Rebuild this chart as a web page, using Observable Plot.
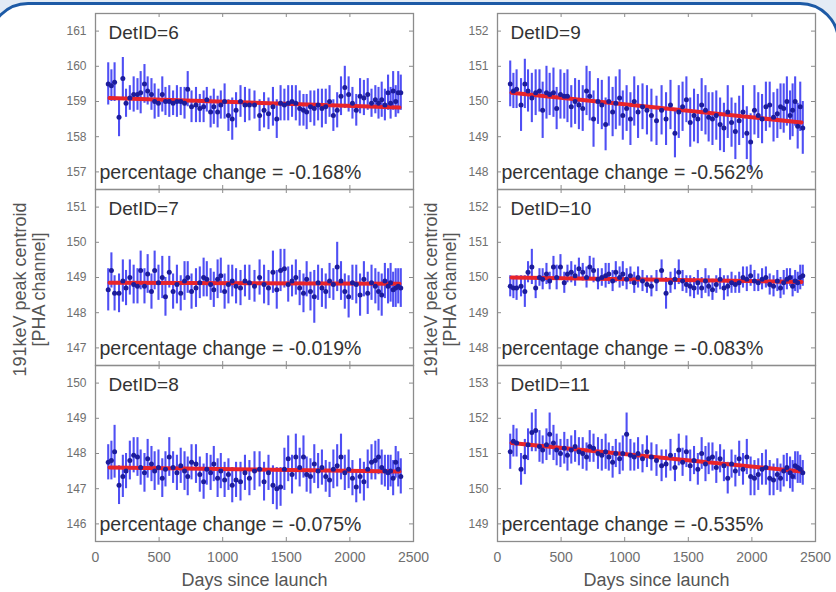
<!DOCTYPE html>
<html>
<head>
<meta charset="utf-8">
<script src="https://cdn.jsdelivr.net/npm/d3@7"></script>
<script src="https://cdn.jsdelivr.net/npm/@observablehq/plot@0.6"></script>
<style>
  body { margin: 0; background: #fff; }
  #fig { position: relative; width: 836px; height: 592px; overflow: hidden; background: #e3ebf5;
         font-family: "Liberation Sans", Arial, sans-serif; }
  #card { position: absolute; left: -12px; top: 2px; width: 852px; height: 660px; box-sizing: border-box;
          border: 3px solid #1d5aa6; border-radius: 40px; background: #fff; }
  .panel { position: absolute; }
</style>
</head>
<body>
<div id="fig"><div id="card"></div></div>
<script>
// Observation days (days since launch), shared by all detectors
const days = [
  100, 125, 150, 185, 215, 240, 270, 300, 330, 355,
  385, 410, 440, 465, 495, 525, 550, 580, 610, 640,
  670, 700, 725, 755, 790, 820, 850, 875, 905, 930,
  960, 985, 1015, 1045, 1075, 1105, 1140, 1175, 1210, 1250,
  1290, 1325, 1360, 1395, 1425, 1455, 1485, 1515, 1545, 1575,
  1605, 1635, 1660, 1690, 1720, 1750, 1780, 1810, 1840, 1870,
  1900, 1930, 1960, 1990, 2020, 2050, 2080, 2110, 2140, 2170,
  2200, 2225, 2250, 2275, 2300, 2320, 2340, 2360, 2380, 2400
];

// 191 keV peak centroid [PHA channel] and 1-sigma errors per detector
const det6 = [
  159.5, 159.45, 159.55, 158.55, 159.65, 158.95, 159.1, 159.2, 159.2, 159.25,
  159.5, 159.3, 159.2, 159.0, 158.95, 159.2, 159.0, 159.0, 158.95, 159.0,
  159.0, 158.95, 159.35, 158.85, 158.9, 158.8, 158.85, 159.05, 158.7, 158.85,
  158.7, 158.9, 159.0, 158.6, 158.5, 158.75, 159.0, 158.9, 158.9, 158.9,
  158.6, 158.75, 158.65, 158.85, 158.5, 158.95, 158.9, 158.95, 159.0, 158.95,
  158.8, 158.75, 158.7, 158.85, 158.8, 158.9, 158.8, 158.85, 159.0, 158.6,
  158.75, 159.15, 159.4, 159.2, 158.95, 158.75, 159.15, 159.1, 159.2, 158.95,
  159.05, 158.95, 159.05, 158.9, 159.25, 158.95, 159.3, 159.0, 159.25, 159.25
];
const err6 = [
  0.6, 0.45, 0.55, 0.55, 0.6, 0.4, 0.35, 0.5, 0.45, 0.6,
  0.55, 0.4, 0.45, 0.5, 0.4, 0.5, 0.4, 0.45, 0.35, 0.45,
  0.4, 0.45, 0.5, 0.45, 0.5, 0.4, 0.45, 0.35, 0.45, 0.5,
  0.45, 0.4, 0.5, 0.45, 0.6, 0.5, 0.45, 0.5, 0.45, 0.4,
  0.45, 0.5, 0.45, 0.55, 0.55, 0.5, 0.45, 0.5, 0.45, 0.5,
  0.5, 0.45, 0.5, 0.45, 0.5, 0.45, 0.55, 0.5, 0.45, 0.45,
  0.5, 0.55, 0.6, 0.5, 0.45, 0.45, 0.5, 0.5, 0.45, 0.4,
  0.4, 0.45, 0.5, 0.45, 0.5, 0.45, 0.55, 0.45, 0.6, 0.5
];
const det7 = [
  148.65, 149.2, 148.55, 148.55, 148.9, 148.7, 149.0, 148.8, 148.75, 149.2,
  148.75, 149.1, 148.6, 149.2, 148.85, 149.0, 148.45, 149.15, 148.6, 148.8,
  148.55, 148.9, 149.0, 148.6, 148.7, 148.85, 149.0, 148.95, 148.8, 148.65,
  148.95, 149.05, 148.6, 148.8, 148.9, 148.75, 148.7, 148.9, 148.85, 148.75,
  149.0, 148.8, 148.7, 149.15, 148.65, 149.2, 149.25, 148.8, 148.9, 149.0,
  148.7, 148.55, 148.95, 148.6, 148.45, 148.85, 148.7, 148.6, 148.9, 148.8,
  149.3, 148.9, 148.6, 148.45, 148.85, 148.8, 148.5, 148.95, 148.55, 148.85,
  148.75, 148.6, 148.5, 148.9, 148.75, 148.85, 148.65, 148.7, 148.75, 148.7
];
const err7 = [
  0.6, 0.5, 0.5, 0.55, 0.6, 0.5, 0.5, 0.55, 0.5, 0.55,
  0.5, 0.55, 0.5, 0.55, 0.5, 0.6, 0.55, 0.45, 0.5, 0.55,
  0.5, 0.55, 0.45, 0.5, 0.55, 0.45, 0.55, 0.5, 0.45, 0.5,
  0.55, 0.5, 0.5, 0.55, 0.45, 0.5, 0.5, 0.45, 0.5, 0.45,
  0.5, 0.55, 0.5, 0.6, 0.55, 0.6, 0.55, 0.5, 0.45, 0.5,
  0.5, 0.55, 0.5, 0.55, 0.75, 0.5, 0.55, 0.5, 0.5, 0.45,
  0.7, 0.55, 0.5, 0.6, 0.5, 0.55, 0.6, 0.5, 0.6, 0.5,
  0.5, 0.55, 0.6, 0.5, 0.5, 0.55, 0.5, 0.55, 0.5, 0.55
];
const det8 = [
  147.75, 147.8, 148.05, 147.1, 147.35, 147.5, 147.8, 147.95, 147.9, 147.6,
  147.45, 147.85, 147.7, 147.5, 147.6, 147.3, 147.55, 147.9, 147.6, 147.45,
  147.65, 147.5, 147.35, 147.75, 147.7, 147.4, 147.2, 147.55, 147.45, 147.7,
  147.3, 147.5, 147.25, 147.4, 147.1, 147.25, 147.2, 147.45, 147.3, 147.5,
  147.55, 147.2, 147.45, 147.1, 147.0, 147.05, 147.55, 147.85, 147.4, 147.9,
  147.6, 147.9, 147.4, 147.35, 147.7, 147.5, 147.6, 147.35, 147.25, 147.55,
  147.65, 147.9, 147.45, 147.55, 147.3, 147.05, 147.35, 147.2, 147.55, 147.75,
  147.8, 147.9, 147.6, 147.5, 147.45, 147.5, 147.3, 147.75, 147.55, 147.35
];
const err8 = [
  0.5, 0.55, 0.75, 0.55, 0.6, 0.5, 0.55, 0.5, 0.55, 0.5,
  0.55, 0.55, 0.5, 0.55, 0.5, 0.55, 0.5, 0.55, 0.45, 0.5,
  0.5, 0.55, 0.55, 0.5, 0.55, 0.5, 0.5, 0.45, 0.5, 0.5,
  0.55, 0.5, 0.5, 0.45, 0.5, 0.5, 0.55, 0.5, 0.5, 0.55,
  0.5, 0.55, 0.5, 0.55, 0.6, 0.55, 0.6, 0.65, 0.55, 0.65,
  0.55, 0.6, 0.5, 0.5, 0.55, 0.5, 0.5, 0.45, 0.5, 0.55,
  0.6, 0.65, 0.5, 0.55, 0.5, 0.45, 0.5, 0.55, 0.55, 0.5,
  0.55, 0.5, 0.5, 0.45, 0.5, 0.45, 0.5, 0.45, 0.5, 0.5
];
const det9 = [
  150.5, 150.3, 150.35, 149.9, 150.5, 150.3, 150.1, 150.25, 150.3, 149.75,
  150.25, 150.2, 150.25, 149.8, 150.2, 150.15, 150.15, 149.85, 150.0, 149.9,
  149.8, 150.3, 150.15, 149.5, 150.0, 149.9, 149.35, 150.0, 149.7, 149.95,
  150.1, 149.6, 149.8, 149.5, 150.0, 149.7, 149.85, 149.75, 149.6, 149.45,
  149.75, 149.5, 149.9, 149.1, 149.7, 149.85, 150.05, 149.4, 149.6, 149.5,
  149.9, 149.75, 149.55, 149.5, 149.6, 149.35, 149.25, 149.7, 149.4, 149.15,
  149.45, 149.7, 149.1, 148.85, 149.75, 149.6, 149.5, 149.85, 149.9, 149.55,
  149.65, 149.85, 149.8, 150.0, 149.6, 149.75, 150.0, 149.3, 149.85, 149.25
];
const err9 = [
  0.65, 0.5, 0.55, 0.75, 0.7, 0.6, 0.7, 0.65, 0.6, 0.8,
  0.75, 0.6, 0.7, 0.6, 0.7, 0.65, 0.75, 0.6, 0.65, 0.7,
  0.65, 0.7, 0.7, 0.8, 0.65, 0.7, 0.75, 0.7, 0.7, 0.75,
  0.8, 0.7, 0.65, 0.75, 0.7, 0.75, 0.65, 0.7, 0.75, 0.7,
  0.7, 0.75, 0.7, 0.7, 0.75, 0.7, 0.65, 0.7, 0.75, 0.7,
  0.75, 0.7, 0.7, 0.75, 0.7, 0.75, 0.7, 0.75, 0.7, 0.8,
  0.7, 0.75, 0.75, 0.8, 0.7, 0.65, 0.7, 0.7, 0.65, 0.7,
  0.7, 0.65, 0.7, 0.7, 0.7, 0.75, 0.7, 0.65, 0.7, 0.75
];
const det10 = [
  149.75, 149.7, 149.7, 149.75, 149.6, 150.15, 150.3, 149.7, 150.0, 149.95,
  150.1, 149.9, 150.3, 150.0, 150.3, 149.85, 150.1, 150.15, 150.05, 150.25,
  150.15, 150.0, 150.3, 150.2, 149.95, 150.0, 150.05, 150.1, 149.9, 150.15,
  150.0, 150.1, 149.95, 150.05, 149.85, 150.0, 149.9, 149.8, 149.75, 149.9,
  150.2, 149.55, 149.85, 149.95, 150.15, 149.9, 149.8, 149.75, 149.7, 149.85,
  149.7, 149.9, 149.75, 149.65, 149.8, 149.95, 149.7, 149.75, 149.85, 149.8,
  149.85, 150.0, 149.95, 150.05, 149.9, 149.85, 149.95, 150.0, 149.8, 149.75,
  149.9, 149.7, 149.85, 149.95, 150.0, 149.75, 149.9, 149.85, 150.0, 150.05
];
const err10 = [
  0.3, 0.3, 0.35, 0.3, 0.45, 0.3, 0.5, 0.3, 0.25, 0.3,
  0.3, 0.25, 0.3, 0.35, 0.35, 0.3, 0.25, 0.3, 0.3, 0.3,
  0.25, 0.3, 0.3, 0.35, 0.3, 0.25, 0.35, 0.3, 0.3, 0.3,
  0.3, 0.35, 0.3, 0.25, 0.3, 0.3, 0.3, 0.25, 0.3, 0.3,
  0.3, 0.45, 0.3, 0.3, 0.35, 0.3, 0.25, 0.3, 0.3, 0.35,
  0.3, 0.35, 0.3, 0.3, 0.25, 0.3, 0.35, 0.3, 0.3, 0.25,
  0.3, 0.3, 0.35, 0.3, 0.3, 0.25, 0.3, 0.3, 0.3, 0.3,
  0.3, 0.3, 0.35, 0.3, 0.25, 0.3, 0.3, 0.3, 0.35, 0.3
];
const det11 = [
  151.05, 151.35, 151.3, 150.55, 150.9, 151.25, 151.6, 151.65, 151.2, 151.1,
  151.25, 151.55, 151.3, 151.1, 151.0, 151.15, 150.95, 151.1, 151.2, 151.05,
  151.0, 150.9, 151.2, 151.15, 151.0, 150.95, 151.05, 150.9, 150.75, 151.0,
  150.85, 151.0, 151.55, 150.95, 150.9, 151.0, 150.85, 151.05, 150.9, 150.8,
  150.65, 150.7, 150.95, 150.6, 151.1, 150.75, 151.05, 150.65, 150.8, 150.55,
  151.0, 150.7, 150.85, 150.9, 150.6, 150.85, 150.65, 150.3, 150.7, 150.5,
  150.85, 150.55, 150.9, 150.35, 150.3, 150.4, 150.55, 150.6, 150.3, 150.25,
  150.4, 150.3, 150.5, 150.6, 150.45, 150.35, 150.65, 150.6, 150.55, 150.45
];
const err11 = [
  0.5, 0.45, 0.4, 0.45, 0.5, 0.45, 0.55, 0.6, 0.45, 0.4,
  0.45, 0.6, 0.5, 0.45, 0.4, 0.45, 0.45, 0.4, 0.45, 0.4,
  0.45, 0.4, 0.45, 0.4, 0.45, 0.45, 0.5, 0.4, 0.45, 0.4,
  0.45, 0.5, 0.6, 0.45, 0.4, 0.45, 0.4, 0.45, 0.4, 0.45,
  0.45, 0.4, 0.45, 0.4, 0.45, 0.4, 0.45, 0.45, 0.4, 0.45,
  0.45, 0.5, 0.45, 0.4, 0.45, 0.4, 0.45, 0.45, 0.4, 0.45,
  0.5, 0.45, 0.5, 0.55, 0.5, 0.45, 0.45, 0.5, 0.5, 0.45,
  0.45, 0.4, 0.45, 0.4, 0.45, 0.45, 0.4, 0.45, 0.4, 0.35
];

// Panel annotations and linear-fit parameters
const detIds = [6, 7, 8, 9, 10, 11];
const pctChange = [-0.168, -0.019, -0.075, -0.562, -0.083, -0.535];
const fitStart = [159.1, 148.85, 147.6, 150.25, 150.0, 151.3];
const fitDays = [110, 2390];
const yTickValues = [
  [157, 158, 159, 160, 161],
  [147, 148, 149, 150, 151],
  [146, 147, 148, 149, 150],
  [148, 149, 150, 151, 152],
  [148, 149, 150, 151, 152],
  [149, 150, 151, 152, 153]
];
const xTickValues = [0, 500, 1000, 1500, 2000, 2500];
const xLabel = "Days since launch";
const yLabel = "191keV peak centroid\n[PHA channel]";

const centroids = [det6, det7, det8, det9, det10, det11];
const errors = [err6, err7, err8, err9, err10, err11];

// Layout of the 3x2 grid of panels (frame positions in page pixels)
const frameW = 318, frameH = 176;
const colLeft = [95, 497];
const rowTop = [13, 189, 365];

const fig = document.getElementById("fig");
const axisGray = "#8c8c8c";
const font = "Liberation Sans, Arial, sans-serif";

detIds.forEach((id, i) => {
  const col = Math.floor(i / 3), row = i % 3;
  const svgLeft = col === 0 ? 0 : 420;
  const mTop = 4, mRight = 6, mLeft = colLeft[col] - svgLeft;
  const mBottom = row === 2 ? 52 : 4;
  const yt = yTickValues[i];
  const lo = yt[0] - 0.5, hi = yt[yt.length - 1] + 0.5;

  const pts = days.map((d, k) => ({day: d, v: centroids[i][k], e: errors[i][k]}));
  const fitEnd = fitStart[i] * (1 + pctChange[i] / 100);
  const fit = [{day: fitDays[0], v: fitStart[i]}, {day: fitDays[1], v: fitEnd}];
  const innerX = xTickValues.slice(1, -1);

  const marks = [
    // error bars, fit line, centroids
    Plot.ruleX(pts, {x: "day", y1: d => d.v - d.e, y2: d => d.v + d.e, stroke: "#3030f2", strokeWidth: 2.1, strokeOpacity: 0.85}),
    Plot.line(fit, {x: "day", y: "v", stroke: "#e8242b", strokeWidth: 4}),
    Plot.dot(pts, {x: "day", y: "v", r: 2.5, fill: "#1c1c9c"}),
    // inward tick marks on all four sides
    Plot.tickY(yt, {y: d => d, stroke: axisGray, insetRight: frameW - 4}),
    Plot.tickY(yt, {y: d => d, stroke: axisGray, insetLeft: frameW - 4}),
    Plot.tickX(innerX, {x: d => d, stroke: axisGray, insetBottom: frameH - 4}),
    Plot.tickX(innerX, {x: d => d, stroke: axisGray, insetTop: frameH - 4}),
    Plot.frame({stroke: axisGray, strokeWidth: 1.3}),
    Plot.axisY(yt, {tickSize: 0, tickPadding: 9, fontSize: 12, fill: "#6f6f6f", label: null}),
    Plot.text([`DetID=${id}`], {frameAnchor: "top-left", dx: 13, dy: 19, lineAnchor: "middle", textAnchor: "start", fontSize: 19, fill: "#333"}),
    Plot.text([`percentage change = ${pctChange[i].toFixed(3)}%`], {frameAnchor: "bottom-left", dx: 4, dy: -17, lineAnchor: "middle", textAnchor: "start", fontSize: 19.5, fill: "#333"})
  ];
  if (row === 1) {
    marks.push(Plot.text([yLabel], {frameAnchor: "left", dx: col === 0 ? -66 : -57, dy: 12, rotate: -90, lineAnchor: "middle", textAnchor: "middle", lineHeight: 1.05, fontSize: 18, fill: "#555"}));
  }
  if (row === 2) {
    marks.push(Plot.axisX(xTickValues, {tickSize: 0, tickPadding: 11, fontSize: 14, fill: "#6f6f6f", tickFormat: d3.format("d"), label: null}));
    marks.push(Plot.text([xLabel], {frameAnchor: "bottom", dy: 39, lineAnchor: "middle", fontSize: 18, fill: "#555"}));
  }

  const plot = Plot.plot({
    width: mLeft + frameW + mRight,
    height: mTop + frameH + mBottom,
    marginLeft: mLeft, marginRight: mRight, marginTop: mTop, marginBottom: mBottom,
    style: {background: "transparent", fontFamily: font, overflow: "visible"},
    x: {domain: [0, 2500], axis: null},
    y: {domain: [lo, hi], axis: null},
    marks
  });
  plot.classList.add("panel");
  plot.style.left = svgLeft + "px";
  plot.style.top = (rowTop[row] - mTop) + "px";
  fig.appendChild(plot);
});
</script>
</body>
</html>
